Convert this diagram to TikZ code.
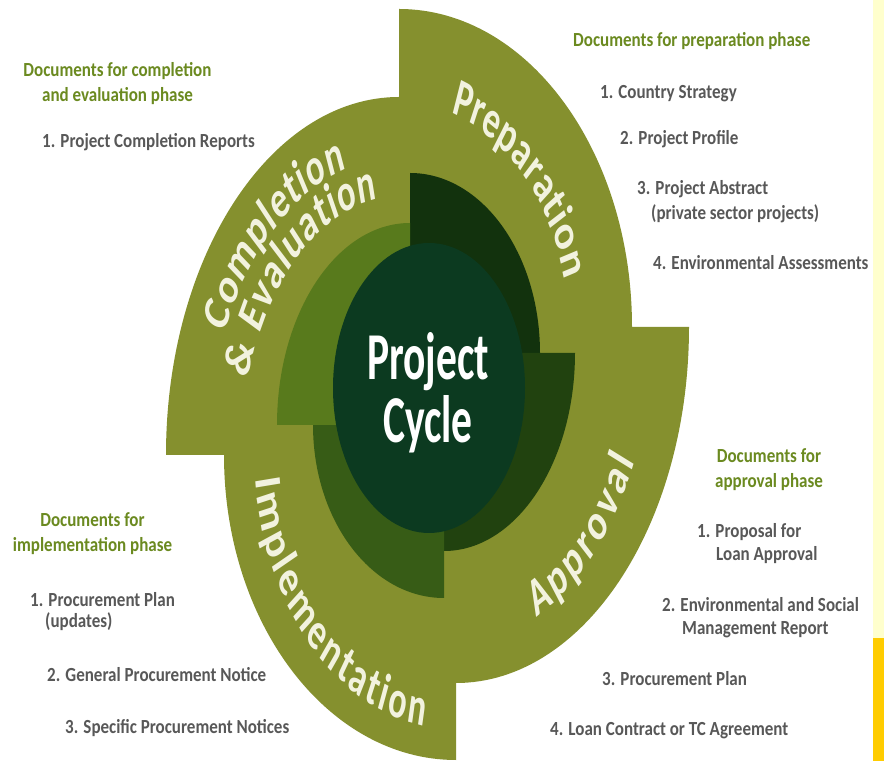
\documentclass[tikz,border=0pt]{standalone}
\usepackage{fontspec}
\setmainfont{Carlito}
\newfontfamily\docfont[FakeStretch=0.85]{Carlito}
\newfontfamily\hubfont[FakeStretch=0.62]{Carlito}
\newfontfamily\phasefont[FakeStretch=0.9]{Carlito}
\usetikzlibrary{decorations.text}
\definecolor{bandolive}{RGB}{133,144,46}
\definecolor{ringcomp}{RGB}{88,122,28}
\definecolor{ringimpl}{RGB}{55,92,22}
\definecolor{ringappr}{RGB}{33,66,15}
\definecolor{ringprep}{RGB}{18,50,13}
\definecolor{hubgreen}{RGB}{12,58,32}
\definecolor{headgreen}{RGB}{107,138,32}
\definecolor{itemgray}{RGB}{88,88,88}
\definecolor{phasecream}{RGB}{242,242,222}
\definecolor{stripcream}{RGB}{255,255,205}
\definecolor{stripgold}{RGB}{255,204,0}

\begin{document}
\begin{tikzpicture}[x=1pt, y=1pt,
    dochead/.style={inner sep=0pt, text=headgreen, align=center, font=\docfont\bfseries\fontsize{20}{25}\selectfont},
    docitem/.style={anchor=base west, inner sep=0pt, text=itemgray, align=left, font=\docfont\bfseries\fontsize{20}{23}\selectfont},
    phasetext/.style={decorate, decoration={text along path, text align={fit to path}, text color=phasecream,
        text={|\phasefont\bfseries\fontsize{54}{54}\selectfont|#1}}}]
  \path[use as bounding box, fill=white] (0,0) rectangle (884,761);

  % --- outer band, one quarter per phase
  \foreach \cx/\cy/\a/\b/\s in {399/434/233/318/0, 456/434/233/356/270, 456/306/232/305/180, 399/306/233/358/90}
    \fill[bandolive] (\cx,\cy) -- +(\s:{\a} and {\b}) arc[start angle=\s, delta angle=90, x radius=\a, y radius=\b] -- cycle;

  % --- inner ring, darker shades
  \foreach \cx/\cy/\a/\b/\s/\col in {410/408/130/180/0/ringprep, 444/408/131/198/270/ringappr,
      444/336/131/173/180/ringimpl, 410/336/133/202/90/ringcomp}
    \fill[\col] (\cx,\cy) -- +(\s:{\a} and {\b}) arc[start angle=\s, delta angle=90, x radius=\a, y radius=\b] -- cycle;

  % --- hub
  \fill[hubgreen] (429,373) ellipse [x radius=96, y radius=145];
  \node[anchor=base, inner sep=0pt, text=white, font=\hubfont\bfseries\fontsize{67}{63}\selectfont] (projword) at (428,381) {Project};
  \node[anchor=base, inner sep=0pt, text=white, font=\hubfont\bfseries\fontsize{67}{63}\selectfont] (cycleword) at (428,318) {Cycle};

  % --- phase names along the band
  \begin{scope}[transform canvas={xscale=0.7}, x=1.428571pt]
    \path[phasetext=Preparation, shift={(399,434)}] (72:169 and 225) arc[start angle=72, end angle=12, x radius=169, y radius=225];
    \path[phasetext=Approval, shift={(456,434)}] (-66:197 and 318) arc[start angle=-66, end angle=-25, x radius=197, y radius=318];
    \path[phasetext=Implementation, shift={(456,306)}] (185:201 and 275) arc[start angle=185, end angle=261, x radius=201, y radius=275];
    \path[phasetext=Completion, shift={(399,306)}] (156:191 and 298) arc[start angle=156, end angle=106, x radius=191, y radius=298];
    \path[phasetext={{\&} Evaluation}, shift={(399,306)}] (163:158 and 258) arc[start angle=163, end angle=98, x radius=158, y radius=258];
  \end{scope}

  % --- preparation documents
  \node[dochead, anchor=base west] (prephead) at (573,714) {Documents for preparation phase};
  \node[docitem] (prep1) at (600,662) {1. Country Strategy};
  \node[docitem] (prep2) at (620,616) {2. Project Profile};
  \node[docitem, font=\docfont\bfseries\fontsize{20}{25}\selectfont] (prep3) at (637,541) {3. Project Abstract\\\hspace*{14pt}(private sector projects)};
  \node[docitem] (prep4) at (653,491) {4. Environmental Assessments};

  % --- completion documents
  \node[dochead, anchor=base] (comphead) at (117.5,659) {Documents for completion\\and evaluation phase};
  \node[docitem] (comp1) at (42,613) {1. Project Completion Reports};

  % --- implementation documents
  \node[dochead, anchor=base] (implhead) at (92.5,209) {Documents for\\implementation phase};
  \node[docitem, font=\docfont\bfseries\fontsize{20}{21}\selectfont] (impl1) at (30,133) {1. Procurement Plan\\\hspace*{15pt}(updates)};
  \node[docitem] (impl2) at (47,79) {2. General Procurement Notice};
  \node[docitem] (impl3) at (65,28) {3. Specific Procurement Notices};

  % --- approval documents
  \node[dochead, anchor=base] (apprhead) at (769,273) {Documents for\\approval phase};
  \node[docitem] (appr1) at (697,200) {1. Proposal for\\\hspace*{19pt}Loan Approval};
  \node[docitem] (appr2) at (662,126) {2. Environmental and Social\\\hspace*{20pt}Management Report};
  \node[docitem] (appr3) at (602,76) {3. Procurement Plan};
  \node[docitem] (appr4) at (550,26) {4. Loan Contract or TC Agreement};

  % --- edge strip
  \fill[stripcream] (873,123) rectangle (884,761);
  \fill[stripgold] (873,0) rectangle (884,123);
\end{tikzpicture}
\end{document}
